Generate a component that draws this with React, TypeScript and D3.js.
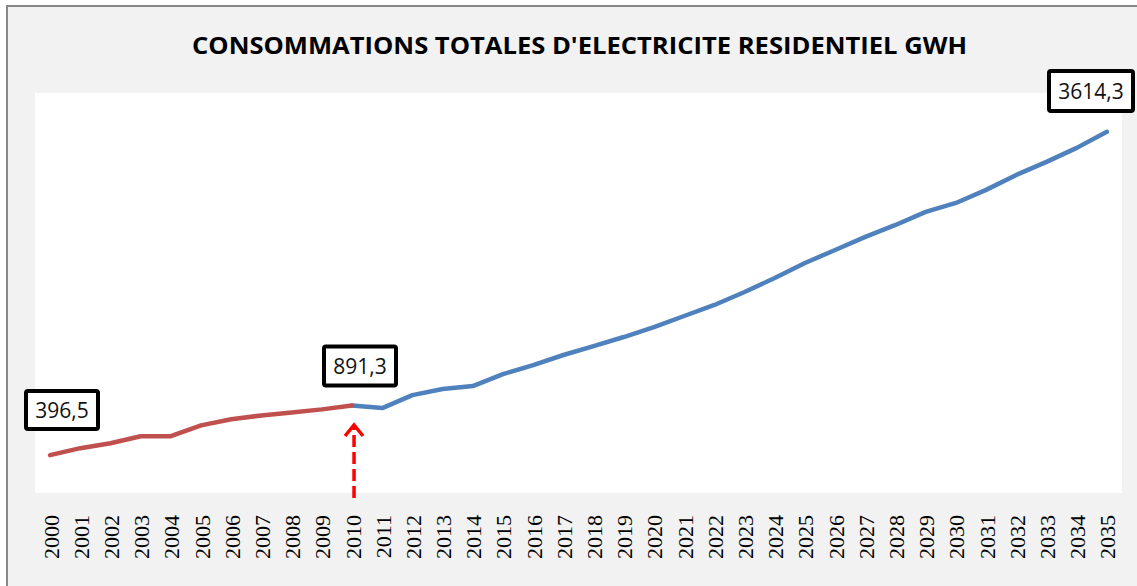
import React, { useRef, useEffect } from "react";
import * as d3 from "d3";

const years = d3.range(2000, 2036).map(String);

// historical (red) 2000-2010
const histValues = [396.5, 466, 515, 585, 585, 693, 753, 792, 822, 852, 891.3];

// projection (blue) 2010-2035
const projYears = years.slice(10);
const projValues = [
  891.3, 865, 994, 1054, 1084, 1203, 1293, 1393, 1482, 1572, 1671, 1781, 1891,
  2020, 2160, 2309, 2438, 2568, 2687, 2817, 2906, 3036, 3185, 3315, 3454, 3614.3,
];

const labels = [
  { year: "2000", text: "396,5", cx: 62, cy: 410, w: 76, h: 42 },
  { year: "2010", text: "891,3", cx: 360, cy: 366, w: 76, h: 43 },
  { year: "2035", text: "3614,3", cx: 1091, cy: 91, w: 88, h: 44 },
];

const title = "CONSOMMATIONS TOTALES D'ELECTRICITE RESIDENTIEL GWH";

const W = 1137;
const H = 586;

const App = () => {
  const svgRef = useRef<SVGSVGElement>(null);

  useEffect(() => {
    const svg = d3.select(svgRef.current);
    svg.selectAll("*").remove();

    const plot = { left: 35, right: 1122, top: 93, bottom: 493 };

    const x = d3.scaleBand().domain(years).range([plot.left, plot.right]);
    const cx = (d: string) => (x(d) as number) + x.bandwidth() / 2;
    const y = d3.scaleLinear().domain([0, 4000]).range([495, 93]);

    // chart frame
    svg
      .append("rect")
      .attr("x", 7)
      .attr("y", 6)
      .attr("width", W)
      .attr("height", H)
      .attr("fill", "#f2f2f2")
      .attr("stroke", "#878787")
      .attr("stroke-width", 2);

    svg
      .append("rect")
      .attr("x", plot.left)
      .attr("y", plot.top)
      .attr("width", plot.right - plot.left)
      .attr("height", plot.bottom - plot.top)
      .attr("fill", "#fff");

    // title
    svg
      .append("text")
      .attr("x", 192)
      .attr("y", 54)
      .attr("textLength", 775)
      .attr("lengthAdjust", "spacingAndGlyphs")
      .style("font-family", "'Open Sans', sans-serif")
      .style("font-weight", "bold")
      .style("font-size", "23px")
      .attr("fill", "#000")
      .text(title);

    // x labels
    svg
      .append("g")
      .selectAll("text")
      .data(years)
      .enter()
      .append("text")
      .attr("transform", (d) => `translate(${cx(d) + 1},515) rotate(-90)`)
      .attr("text-anchor", "end")
      .attr("dy", "0.34em")
      .style("font-family", "'Liberation Serif', serif")
      .style("font-size", "22px")
      .attr("fill", "#000")
      .text((d) => d);

    const line = d3
      .line<[string, number]>()
      .x((d) => cx(d[0]))
      .y((d) => y(d[1]));

    svg
      .append("path")
      .datum(projYears.map((d, i) => [d, projValues[i]] as [string, number]))
      .attr("d", line)
      .attr("fill", "none")
      .attr("stroke", "#4f81bd")
      .attr("stroke-width", 4.5)
      .attr("stroke-linecap", "round")
      .attr("stroke-linejoin", "round");

    svg
      .append("path")
      .datum(years.slice(0, 11).map((d, i) => [d, histValues[i]] as [string, number]))
      .attr("d", line)
      .attr("fill", "none")
      .attr("stroke", "#c0504d")
      .attr("stroke-width", 4.5)
      .attr("stroke-linecap", "round")
      .attr("stroke-linejoin", "round");

    // arrow at 2010
    const ax = cx("2010") + 2;
    const arrow = svg.append("g").attr("stroke", "#ff0000").attr("fill", "none");
    arrow
      .append("line")
      .attr("x1", ax)
      .attr("x2", ax)
      .attr("y1", 498)
      .attr("y2", 426)
      .attr("stroke-width", 3.5)
      .attr("stroke-dasharray", "12 5");
    arrow
      .append("path")
      .attr("d", `M${ax - 9},${436} L${ax},${425} L${ax + 9},${436}`)
      .attr("stroke-width", 3.5)
      .attr("stroke-linejoin", "miter");

    // value labels
    const lg = svg.append("g");
    labels.forEach((l) => {
      lg.append("rect")
        .attr("x", l.cx - l.w / 2 + 2)
        .attr("y", l.cy - l.h / 2 + 2)
        .attr("width", l.w - 4)
        .attr("height", l.h - 4)
        .attr("rx", 2)
        .attr("fill", "#fff")
        .attr("stroke", "#000")
        .attr("stroke-width", 4);
      lg.append("text")
        .attr("x", l.cx)
        .attr("y", l.cy)
        .attr("text-anchor", "middle")
        .attr("dy", "0.36em")
        .style("font-family", "'Open Sans', sans-serif")
        .style("font-size", "21px")
        .attr("fill", "#111")
        .text(l.text);
    });
  }, []);

  return (
    <div style={{ position: "absolute", left: 0, top: 0, width: W, height: H, background: "#fff" }}>
      <svg ref={svgRef} width={W} height={H} style={{ display: "block" }}></svg>
    </div>
  );
};

export default App;
